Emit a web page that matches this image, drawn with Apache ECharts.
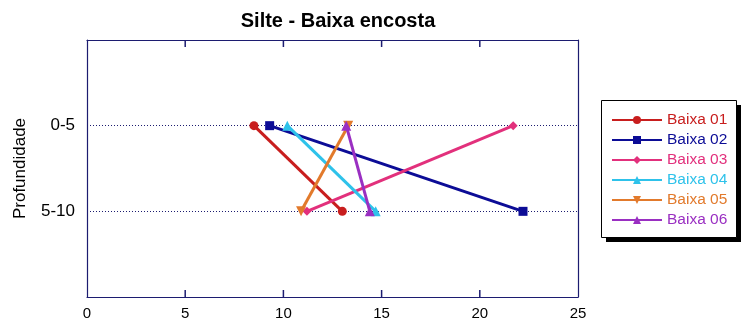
<!DOCTYPE html>
<html>
<head>
<meta charset="utf-8">
<script src="https://cdn.jsdelivr.net/npm/echarts@6/dist/echarts.min.js"></script>
<style>
  html, body { margin: 0; padding: 0; background: #fff; }
  #chart { width: 745px; height: 324px; }
</style>
</head>
<body>
<div id="chart"></div>
<script>
// Depth classes (y positions 1 and 2 on a 0..3 band scale)
const depthLabels = ['0-5', '5-10'];
const depthPos = [1, 2];
const depthMin = 0, depthMax = 3;

// Silt content (%) per sampling point, in depth order
const seriesNames = ['Baixa 01', 'Baixa 02', 'Baixa 03', 'Baixa 04', 'Baixa 05', 'Baixa 06'];
const baixa01 = [8.5, 13.0];
const baixa02 = [9.3, 22.2];
const baixa03 = [21.7, 11.2];
const baixa04 = [10.2, 14.7];
const baixa05 = [13.3, 10.9];
const baixa06 = [13.2, 14.4];

const xTicks = [0, 5, 10, 15, 20, 25];

const values = [baixa01, baixa02, baixa03, baixa04, baixa05, baixa06];
const colors = ['#C81E1E', '#0C0C96', '#E2307C', '#2EC2EA', '#E27A2C', '#9A2FC2'];
const symbols = ['circle', 'rect', 'diamond', 'triangle',
  'path://M0,0 L10,0 L5,9 Z', 'triangle'];
const symbolSizes = [9, 9, 9, 10, 10, 10];

const axisColor = '#1C1C70';
const font = 'Liberation Sans, Arial, sans-serif';

const chart = echarts.init(document.getElementById('chart'), null, { renderer: 'canvas' });

const series = values.map((v, i) => ({
  name: seriesNames[i],
  type: 'line',
  data: v.map((x, j) => [x, depthPos[j]]),
  symbol: symbols[i],
  symbolSize: symbolSizes[i],
  lineStyle: { width: 3, color: colors[i] },
  itemStyle: { color: colors[i] },
  z: 3 + i,
  animation: false
}));

const frameLine = { show: true, onZero: false, lineStyle: { color: axisColor, width: 1.2 } };

const legendBox = [{
  type: 'rect', z: 0,
  shape: { x: 606, y: 105, width: 135, height: 137 },
  style: { fill: '#000' }
}, {
  type: 'rect', z: 1,
  shape: { x: 601.5, y: 100.5, width: 135, height: 137 },
  style: { fill: '#fff', stroke: '#000', lineWidth: 1 }
}];

chart.setOption({
  animation: false,
  backgroundColor: '#fff',
  title: {
    text: 'Silte - Baixa encosta',
    left: 333, top: 6, textAlign: 'center',
    textStyle: { fontFamily: font, fontSize: 20, fontWeight: 'bold', color: '#000' }
  },
  grid: { left: 87, right: 167, top: 40, bottom: 27 },
  xAxis: [{
    type: 'value', position: 'bottom', min: xTicks[0], max: xTicks[xTicks.length - 1], interval: 5,
    axisLine: frameLine,
    axisTick: { show: false },
    axisLabel: { fontFamily: font, fontSize: 15, color: '#000', margin: 9 },
    splitLine: { show: false }
  }, {
    type: 'value', position: 'top', min: xTicks[0], max: xTicks[xTicks.length - 1], interval: 5,
    axisLine: frameLine,
    axisTick: { show: false },
    axisLabel: { show: false },
    splitLine: { show: false }
  }],
  yAxis: [{
    type: 'value', position: 'left', min: depthMin, max: depthMax, interval: 1, inverse: true,
    name: 'Profundidade', nameLocation: 'middle', nameGap: 58,
    nameTextStyle: { fontFamily: font, fontSize: 17, color: '#000' },
    axisLine: frameLine,
    axisTick: { show: false },
    axisLabel: {
      fontFamily: font, fontSize: 17, color: '#000', margin: 12,
      formatter: v => { const k = depthPos.indexOf(v); return k >= 0 ? depthLabels[k] : ''; }
    },
    splitLine: { show: true, lineStyle: { color: axisColor, type: [1, 2], width: 1 } }
  }, {
    type: 'value', position: 'right', min: depthMin, max: depthMax, interval: 1, inverse: true,
    axisLine: frameLine,
    axisTick: { show: false }, axisLabel: { show: false }, splitLine: { show: false }
  }],
  graphic: legendBox,
  legend: {
    orient: 'vertical',
    left: 611, top: 112,
    padding: 0,
    itemWidth: 50, itemHeight: 10, itemGap: 4,
    data: seriesNames.map((n, i) => ({ name: n, textStyle: { color: colors[i] } })),
    textStyle: { fontFamily: font, fontSize: 15.5, lineHeight: 16, padding: [0, 0, 0, 0] },
    z: 10
  },
  series: series
});

// Inward tick marks on the top and bottom frame, placed through the x scale
const tickLen = 7;
const ticks = [];
xTicks.slice(1, -1).forEach(t => {
  const bottom = chart.convertToPixel({ xAxisIndex: 0, yAxisIndex: 0 }, [t, depthMax]);
  const top = chart.convertToPixel({ xAxisIndex: 0, yAxisIndex: 0 }, [t, depthMin]);
  const style = { stroke: axisColor, lineWidth: 1.5 };
  ticks.push({ type: 'line', z: 5, shape: { x1: bottom[0], y1: bottom[1], x2: bottom[0], y2: bottom[1] - tickLen }, style });
  ticks.push({ type: 'line', z: 5, shape: { x1: top[0], y1: top[1], x2: top[0], y2: top[1] + tickLen }, style });
});
chart.setOption({ graphic: legendBox.concat(ticks) });
</script>
</body>
</html>
